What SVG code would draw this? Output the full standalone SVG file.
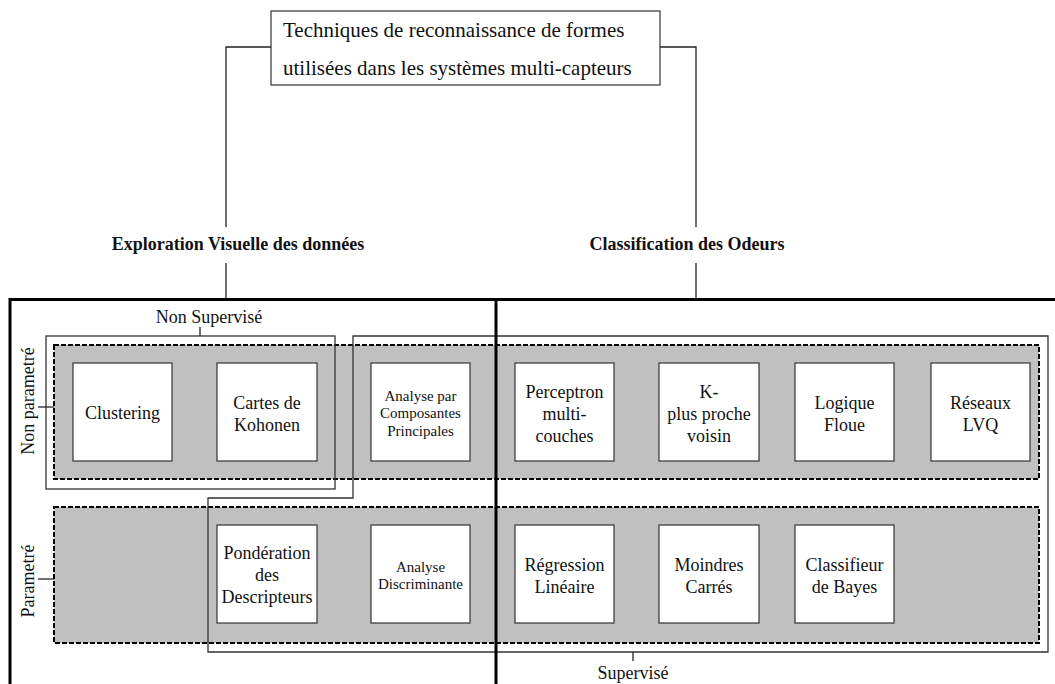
<svg xmlns="http://www.w3.org/2000/svg" width="1055" height="684" viewBox="0 0 1055 684">
<style>
text{font-family:"Liberation Serif","Times New Roman",serif;fill:#111}
.t18{font-size:18px;text-anchor:middle}
.t15{font-size:15px;text-anchor:middle}
.b{font-size:18px;font-weight:bold;text-anchor:middle}
.node{fill:#fff;stroke:#333;stroke-width:1.2}
.band{fill:#c0c0c0;stroke:#000;stroke-width:2;stroke-dasharray:5 2}
.grp{fill:none;stroke:#333;stroke-width:1.3}
.ln{fill:none;stroke:#222;stroke-width:1.3}
.thick{fill:none;stroke:#000;stroke-width:3}
</style>
<rect width="1055" height="684" fill="#fff"/>

<g id="bands">
<rect class="band" x="54" y="345" width="985" height="134"/>
<rect class="band" x="54" y="507" width="985" height="136"/>
</g>

<g id="groups">
<rect id="non-supervise" class="grp" x="46" y="336" width="289" height="153"/>
<polygon id="supervise" class="grp" points="353,336 1048,336 1048,652 208,652 208,498 353,498"/>
</g>

<g id="connectors">
<polyline class="ln" points="271,47 226,47 226,227"/>
<line class="ln" x1="226" y1="263" x2="226" y2="299"/>
<polyline class="ln" points="660,47 696,47 696,227"/>
<line class="ln" x1="696" y1="263" x2="696" y2="299"/>
<line class="ln" x1="200" y1="327" x2="200" y2="336"/>
<line class="ln" x1="633" y1="652" x2="633" y2="661"/>
<line class="ln" x1="38" y1="407" x2="54" y2="407"/>
<line class="ln" x1="38" y1="579" x2="54" y2="579"/>
</g>

<g id="root">
<rect x="271" y="11" width="389" height="74" fill="#fff" stroke="#333" stroke-width="1.2"/>
<text x="283" y="37" font-size="21">Techniques de reconnaissance de formes</text>
<text x="283" y="75" font-size="21">utilisées dans les systèmes multi-capteurs</text>
</g>

<g id="label-exploration"><text class="b" x="238" y="250">Exploration Visuelle des données</text></g>
<g id="label-classification"><text class="b" x="687" y="250">Classification des Odeurs</text></g>
<g id="label-nonsup"><text class="t18" x="209" y="323">Non Supervisé</text></g>
<g id="label-sup"><text class="t18" x="633" y="679">Supervisé</text></g>
<g id="label-nonparam"><text class="t18" transform="translate(34,401) rotate(-90)">Non parametré</text></g>
<g id="label-param"><text class="t18" transform="translate(34,581) rotate(-90)">Parametré</text></g>

<g id="n-clustering"><rect class="node" x="73" y="363" width="99" height="98"/><text class="t18" x="122.5" y="419">Clustering</text></g>
<g id="n-kohonen"><rect class="node" x="217" y="363" width="100" height="98"/><text class="t18" x="267" y="409">Cartes de</text><text class="t18" x="267" y="431">Kohonen</text></g>
<g id="n-acp"><rect class="node" x="371" y="363" width="99" height="98"/><text class="t15" x="420.5" y="401">Analyse par</text><text class="t15" x="420.5" y="418">Composantes</text><text class="t15" x="420.5" y="436">Principales</text></g>
<g id="n-perceptron"><rect class="node" x="515" y="363" width="99" height="98"/><text class="t18" x="564.5" y="398">Perceptron</text><text class="t18" x="564.5" y="420">multi-</text><text class="t18" x="564.5" y="442">couches</text></g>
<g id="n-knn"><rect class="node" x="659" y="363" width="100" height="98"/><text class="t18" x="709" y="398">K-</text><text class="t18" x="709" y="420">plus proche</text><text class="t18" x="709" y="442">voisin</text></g>
<g id="n-logique"><rect class="node" x="795" y="363" width="99" height="98"/><text class="t18" x="844.5" y="409">Logique</text><text class="t18" x="844.5" y="431">Floue</text></g>
<g id="n-lvq"><rect class="node" x="931" y="363" width="99" height="98"/><text class="t18" x="980.5" y="409">Réseaux</text><text class="t18" x="980.5" y="431">LVQ</text></g>

<g id="n-ponderation"><rect class="node" x="217" y="525" width="100" height="98"/><text class="t18" x="267" y="559">Pondération</text><text class="t18" x="267" y="581">des</text><text class="t18" x="267" y="603">Descripteurs</text></g>
<g id="n-ad"><rect class="node" x="371" y="525" width="99" height="98"/><text class="t15" x="420.5" y="572">Analyse</text><text class="t15" x="420.5" y="589">Discriminante</text></g>
<g id="n-regression"><rect class="node" x="515" y="525" width="99" height="98"/><text class="t18" x="564.5" y="571">Régression</text><text class="t18" x="564.5" y="593">Linéaire</text></g>
<g id="n-moindres"><rect class="node" x="659" y="525" width="100" height="98"/><text class="t18" x="709" y="571">Moindres</text><text class="t18" x="709" y="593">Carrés</text></g>
<g id="n-bayes"><rect class="node" x="795" y="525" width="99" height="98"/><text class="t18" x="844.5" y="571">Classifieur</text><text class="t18" x="844.5" y="593">de Bayes</text></g>

<g id="frame">
<polyline class="thick" points="10,684 10,299.5 1055,299.5"/>
<line class="thick" x1="496" y1="299" x2="496" y2="684"/>
</g>
</svg>
